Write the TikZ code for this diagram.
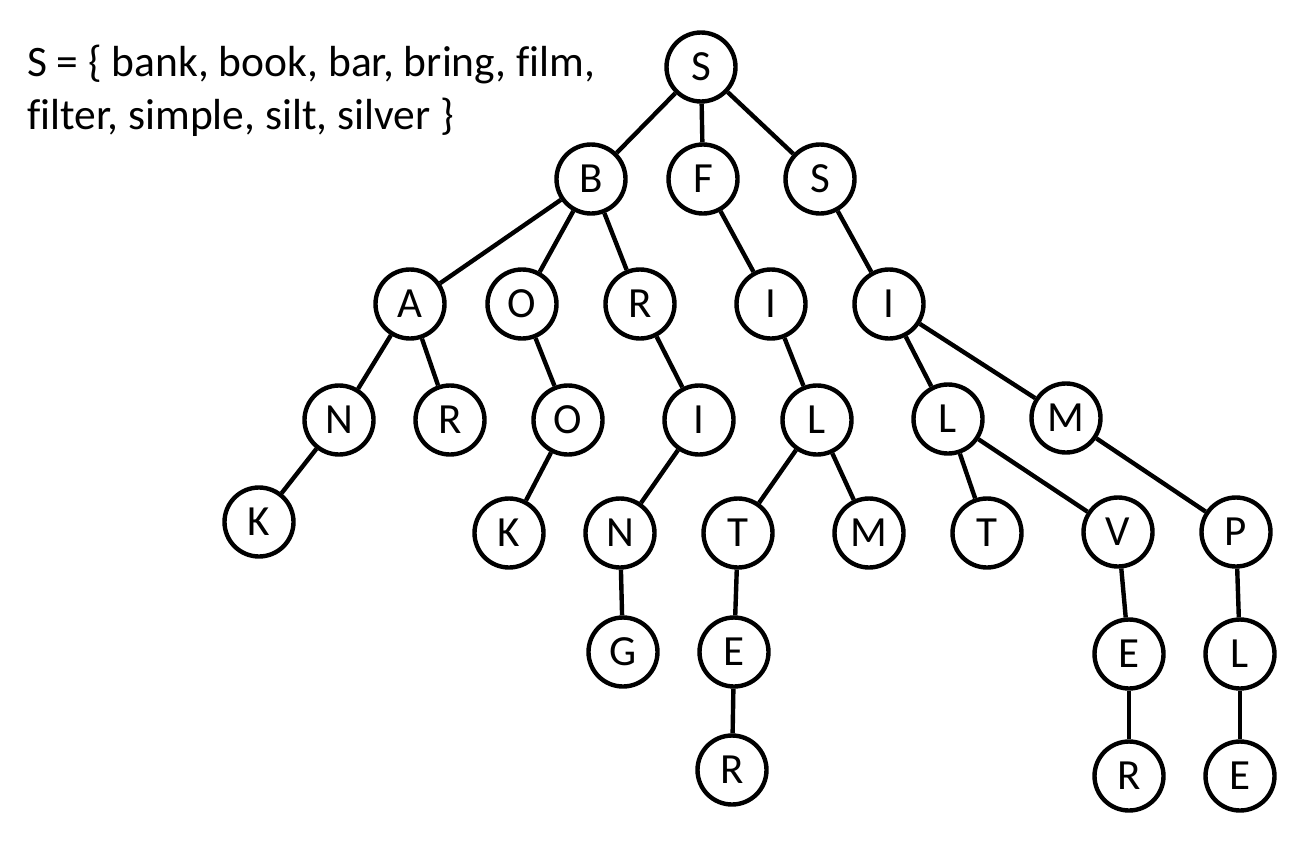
\documentclass[tikz,border=0pt]{standalone}
\usepackage{fontspec}
\setmainfont{Carlito}[Ligatures={TeX,NoCommon}]
\begin{document}
\begin{tikzpicture}[x=1pt,y=-1pt,
  tn/.style={circle,draw=black,line width=4.4pt,minimum size=69pt,inner sep=0pt,font=\fontsize{43}{52}\selectfont},
  lbl/.style={anchor=base west,inner sep=0pt,font=\fontsize{43.5}{52}\selectfont},
  edge/.style={line width=4.4pt}]
\useasboundingbox (0,0) rectangle (1303,841);
\node[lbl] (l1) at (27,76) {S = \{ bank, book, bar, bring, film,};
\node[lbl] (l2) at (27,129) {filter, simple, silt, silver \}};
% level 0
\node[tn] (s) at (701,67) {S};
% level 1
\node[tn] (b) at (591,179) {B};
\node[tn] (f) at (703,179) {F};
\node[tn] (s2) at (820,179) {S};
% level 2
\node[tn] (a) at (410,304) {A};
\node[tn] (o) at (522,304) {O};
\node[tn] (r) at (640,304) {R};
\node[tn] (i1) at (771,304) {I};
\node[tn] (i2) at (889,304) {I};
% level 3
\node[tn] (n) at (339,420) {N};
\node[tn] (r2) at (450,420) {R};
\node[tn] (o2) at (568,420) {O};
\node[tn] (i3) at (699,420) {I};
\node[tn] (l1n) at (817,420) {L};
\node[tn] (l2n) at (948,419) {L};
\node[tn] (m2) at (1066,418) {M};
% level 4
\node[tn] (k1) at (259,522) {K};
\node[tn] (k2) at (509,533) {K};
\node[tn] (n2) at (620,533) {N};
\node[tn] (t1) at (738,533) {T};
\node[tn] (m1) at (869,533) {M};
\node[tn] (t2) at (987,533) {T};
\node[tn] (v) at (1118,532) {V};
\node[tn] (p) at (1236,532) {P};
% level 5
\node[tn] (g) at (623,652) {G};
\node[tn] (e1) at (734,652) {E};
\node[tn] (e2) at (1129,654) {E};
\node[tn] (l3) at (1240,654) {L};
% level 6
\node[tn] (r3) at (732,770) {R};
\node[tn] (r4) at (1129,776) {R};
\node[tn] (e3) at (1240,776) {E};
% edges
\draw[edge] (s) -- (b);
\draw[edge] (s) -- (f);
\draw[edge] (s) -- (s2);
\draw[edge] (b) -- (a);
\draw[edge] (b) -- (o);
\draw[edge] (b) -- (r);
\draw[edge] (f) -- (i1);
\draw[edge] (s2) -- (i2);
\draw[edge] (a) -- (n);
\draw[edge] (a) -- (r2);
\draw[edge] (o) -- (o2);
\draw[edge] (r) -- (i3);
\draw[edge] (i1) -- (l1n);
\draw[edge] (i2) -- (l2n);
\draw[edge] (i2) -- (m2);
\draw[edge] (n) -- (k1);
\draw[edge] (o2) -- (k2);
\draw[edge] (i3) -- (n2);
\draw[edge] (l1n) -- (t1);
\draw[edge] (l1n) -- (m1);
\draw[edge] (l2n) -- (t2);
\draw[edge] (l2n) -- (v);
\draw[edge] (m2) -- (p);
\draw[edge] (n2) -- (g);
\draw[edge] (t1) -- (e1);
\draw[edge] (e1) -- (r3);
\draw[edge] (v) -- (e2);
\draw[edge] (e2) -- (r4);
\draw[edge] (p) -- (l3);
\draw[edge] (l3) -- (e3);
\end{tikzpicture}
\end{document}
